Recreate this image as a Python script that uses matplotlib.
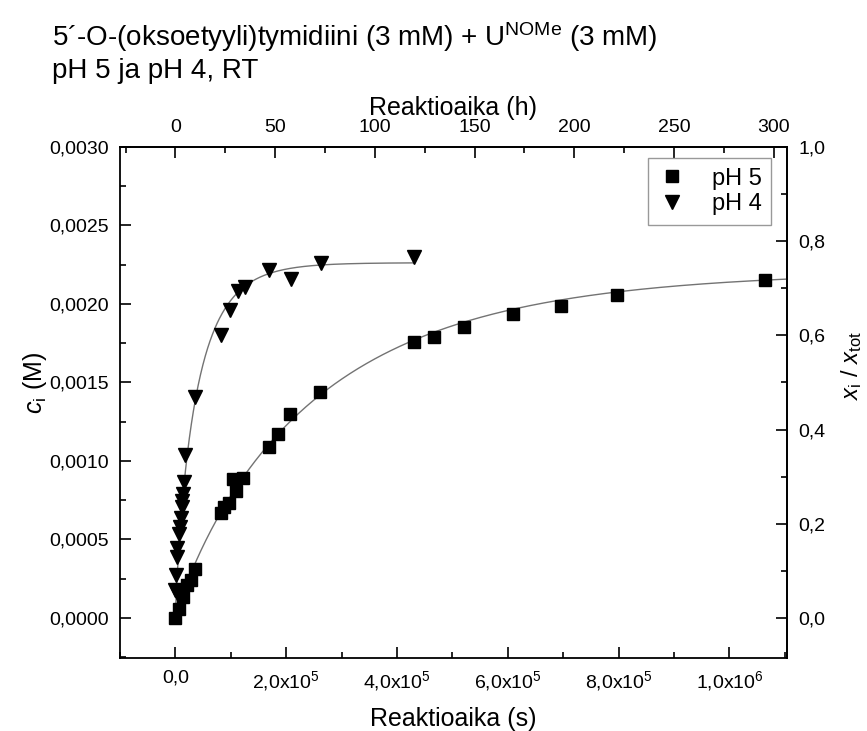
import numpy as np
import matplotlib
matplotlib.use("Agg")
import matplotlib.pyplot as plt
from matplotlib.ticker import FuncFormatter, MultipleLocator

plt.rcParams['font.family'] = ['Liberation Sans', 'DejaVu Sans']
plt.rcParams['mathtext.fontset'] = 'custom'
plt.rcParams['mathtext.rm'] = 'Liberation Sans'
plt.rcParams['mathtext.it'] = 'Liberation Sans:italic'
plt.rcParams['mathtext.bf'] = 'Liberation Sans:bold'

# ---- measured data (time in s, concentration in M) ----
t_ph5 = [0, 6000, 14000, 21600, 27600, 34800, 82900, 87700, 96000, 109900,
         104000, 121300, 169400, 185000, 207700, 261800, 431200, 466100,
         521300, 609000, 695500, 796400, 1065000]
c_ph5 = [0.0, 0.000055, 0.000135, 0.000210, 0.000242, 0.000310, 0.000667,
         0.000705, 0.000730, 0.000810, 0.000883, 0.000892, 0.001091, 0.001172,
         0.001299, 0.001439, 0.001760, 0.001792, 0.001851, 0.001936, 0.001989,
         0.002059, 0.002153]

t_ph4 = [0, 3000, 1800, 3600, 3600, 6700, 7700, 10800, 12100, 12600, 13900,
         15700, 18000, 34800, 82900, 97800, 113000, 124900, 169400, 209000,
         263100, 430100]
c_ph4 = [0.000178, 0.000160, 0.000274, 0.000390, 0.000444, 0.000535, 0.000581,
         0.000635, 0.000705, 0.000747, 0.000790, 0.000868, 0.001038, 0.001409,
         0.001802, 0.001962, 0.002085, 0.002110, 0.002216, 0.002157, 0.002259,
         0.002297]

# ---- fitted curves, points ----
fit_t_ph5 = [0, 10800, 23400, 34800, 46800, 73900, 104000, 124900, 167000,
             207700, 261800, 317100, 377100, 431200, 521300, 659500, 796400,
             929700, 1065000, 1104000]
fit_c_ph5 = [0.0, 0.0000955, 0.000210, 0.000348, 0.000433, 0.000624, 0.000796,
             0.000922, 0.001102, 0.001293, 0.001433, 0.001570, 0.001680,
             0.001758, 0.001855, 0.001983, 0.002062, 0.002121, 0.002164,
             0.002180]

fit_t_ph4 = [900, 5400, 10800, 16200, 23400, 30100, 34800, 52800, 70800, 88800,
             113000, 136900, 167000, 209000, 263100, 317100, 430100]
fit_c_ph4 = [0.000115, 0.000369, 0.000624, 0.000879, 0.001134, 0.001261,
             0.001408, 0.001643, 0.001815, 0.001951, 0.002068, 0.002134,
             0.002191, 0.002227, 0.002255, 0.002263, 0.002276]

series_labels = ['pH 5', 'pH 4']
c_total = 0.003
title_line1 = '5\u00b4-O-(oksoetyyli)tymidiini (3 mM) + U$^{\\mathrm{NOMe}}$ (3 mM)'
title_line2 = 'pH 5 ja pH 4, RT'


def smooth_fit(t, c):
    """Least-squares stretched-exponential through the read curve points."""
    t = np.asarray(t, float)
    c = np.asarray(c, float)
    best = None
    for b in np.linspace(0.4, 1.6, 121):
        for k in np.logspace(-7, -3, 800):
            f = 1 - np.exp(-(k * t) ** b)
            A = (f @ c) / (f @ f)
            r = np.sum((c - A * f) ** 2)
            if best is None or r < best[0]:
                best = (r, A, k, b)
    _, A, k, b = best
    return lambda x: A * (1 - np.exp(-(k * np.asarray(x, float)) ** b))


fig = plt.figure(figsize=(8.67, 7.31), dpi=100)
ax = fig.add_axes([0.1384, 0.0999, 0.7693, 0.699])

f5 = smooth_fit(fit_t_ph5, fit_c_ph5)
f4 = smooth_fit(fit_t_ph4, fit_c_ph4)
tt5 = np.linspace(min(fit_t_ph5), max(fit_t_ph5), 600)
tt4 = np.linspace(min(fit_t_ph4), max(fit_t_ph4), 600)
ax.plot(tt5, f5(tt5), color='0.45', lw=1.0, zorder=2)
ax.plot(tt4, f4(tt4), color='0.45', lw=1.0, zorder=2)

ax.plot(t_ph5, c_ph5, ls='none', marker='s', ms=8, color='black',
        label=series_labels[0], zorder=3)
ax.plot(t_ph4, c_ph4, ls='none', marker='v', ms=9.5, color='black',
        label=series_labels[1], zorder=3)

ax.set_xlim(-1.0e5, 1.104e6)
ax.set_ylim(-0.000255, 0.0030)

ax.xaxis.set_major_locator(MultipleLocator(2e5))
ax.xaxis.set_minor_locator(MultipleLocator(1e5))
ax.yaxis.set_major_locator(MultipleLocator(0.0005))
ax.yaxis.set_minor_locator(MultipleLocator(0.00025))


def xfmt(v, pos):
    if abs(v) < 1:
        return '0,0'
    e = int(np.floor(np.log10(abs(v)) + 1e-9))
    m = v / 10 ** e
    return ('%.1f' % m).replace('.', ',') + 'x10$^{%d}$' % e


ax.xaxis.set_major_formatter(FuncFormatter(xfmt))
ax.yaxis.set_major_formatter(FuncFormatter(lambda v, p: ('%.4f' % v).replace('.', ',')))

ax.tick_params(which='both', direction='in', labelsize=14, pad=8,
               top=False, right=False)
ax.tick_params(which='major', length=8, width=1.2)
ax.tick_params(which='minor', length=4.5, width=1.2)
for s in ax.spines.values():
    s.set_linewidth(1.3)

# top axis: hours
secx = ax.secondary_xaxis('top', functions=(lambda s: s / 3600.0, lambda h: h * 3600.0))
secx.xaxis.set_major_locator(MultipleLocator(50))
secx.xaxis.set_minor_locator(MultipleLocator(25))
secx.xaxis.set_major_formatter(FuncFormatter(lambda v, p: '%d' % round(v)))
secx.tick_params(which='both', direction='in', labelsize=14, pad=8)
secx.tick_params(which='major', length=8, width=1.2)
secx.tick_params(which='minor', length=4.5, width=1.2)
secx.set_xlabel('Reaktioaika (h)', fontsize=18, labelpad=3)
secx.spines['top'].set_linewidth(1.3)
secx.xaxis.get_offset_text().set_visible(False)

# right axis: mole fraction
secy = ax.secondary_yaxis('right', functions=(lambda c: c / c_total, lambda x: x * c_total))
secy.yaxis.set_major_locator(MultipleLocator(0.2))
secy.yaxis.set_minor_locator(MultipleLocator(0.1))
secy.yaxis.set_major_formatter(FuncFormatter(lambda v, p: ('%.1f' % v).replace('.', ',').replace('-0,0', '0,0')))
secy.tick_params(which='both', direction='in', labelsize=14, pad=8)
secy.tick_params(which='major', length=8, width=1.2)
secy.tick_params(which='minor', length=4.5, width=1.2)
secy.spines['right'].set_linewidth(1.3)
secy.yaxis.get_offset_text().set_visible(False)

ax.set_xlabel('Reaktioaika (s)', fontsize=18, labelpad=10)
ax.set_ylabel('$\\mathit{c}_{\\mathrm{i}}$ (M)', fontsize=18)
ax.yaxis.set_label_coords(-0.106, 0.538)

fig.text(852 / 867, 1 - 366 / 731,
         '$\\mathit{x}_{\\mathrm{i}}$ / $\\mathit{x}_{\\mathrm{tot}}$',
         fontsize=17, rotation=90, ha='center', va='center')

leg = ax.legend(loc='upper right', bbox_to_anchor=(0.976, 0.978),
                borderaxespad=0.0, fontsize=17, frameon=True, fancybox=False,
                edgecolor='0.5', handlelength=1.2, handletextpad=1.1,
                borderpad=0.4, labelspacing=0.15)
leg.get_frame().set_linewidth(1.0)

fig.text(0.060, 0.937, title_line1, fontsize=20, ha='left', va='baseline')
fig.text(0.060, 0.893, title_line2, fontsize=20, ha='left', va='baseline')

fig.savefig('out.png', dpi=100)
